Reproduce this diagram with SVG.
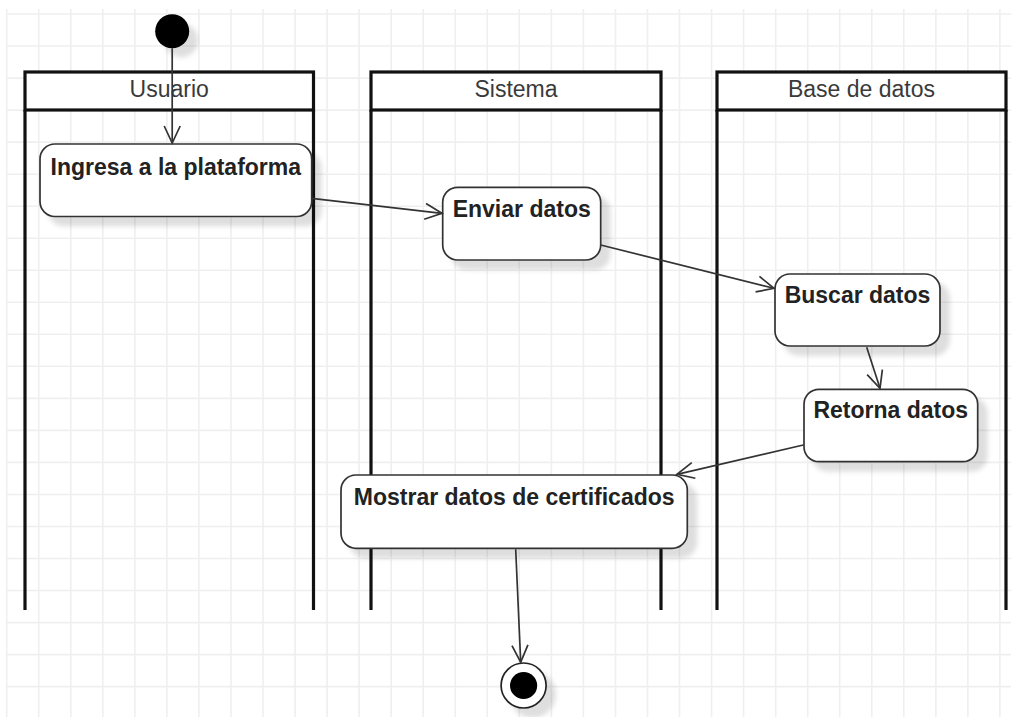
<svg xmlns="http://www.w3.org/2000/svg" width="1011" height="717" viewBox="0 0 1011 717">
<style>
.grid{stroke:#efefef;stroke-width:1.6;fill:none}
.lanehdr{fill:#ffffff;stroke:#111;stroke-width:3.2}
.laneline{stroke:#111;stroke-width:3.2;fill:none}
.hdrtxt{font-family:"Liberation Sans",Arial,sans-serif;font-size:23px;fill:#3a3a3a;text-anchor:middle}
.act{fill:#ffffff;stroke:#333;stroke-width:1.7}
.acttxt{font-family:"Liberation Sans",Arial,sans-serif;font-size:23px;font-weight:bold;fill:#222;text-anchor:middle}
.edge{stroke:#333;stroke-width:1.7;fill:none;marker-end:url(#arr)}
</style>
<defs>
<filter id="sh" x="-20%" y="-20%" width="150%" height="160%">
<feDropShadow dx="9" dy="9" stdDeviation="2.5" flood-color="#000" flood-opacity="0.13"/>
</filter>
<marker id="arr" markerUnits="userSpaceOnUse" markerWidth="22" markerHeight="22" viewBox="0 0 22 22" refX="19" refY="11" orient="auto">
<path d="M2,3 L19,11 L2,19" fill="none" stroke="#333" stroke-width="1.7"/>
</marker>
</defs>
<rect width="1011" height="717" fill="#ffffff"/>
<g id="grid">
<path class="grid" d="M6.7,9V717M38.7,9V717M70.8,9V717M102.8,9V717M134.9,9V717M166.9,9V717M198.9,9V717M231,9V717M263,9V717M295.1,9V717M327.1,9V717M359.1,9V717M391.2,9V717M423.2,9V717M455.3,9V717M487.3,9V717M519.3,9V717M551.4,9V717M583.4,9V717M615.5,9V717M647.5,9V717M679.5,9V717M711.6,9V717M743.6,9V717M775.7,9V717M807.7,9V717M839.7,9V717M871.8,9V717M903.8,9V717M935.9,9V717M967.9,9V717M999.9,9V717"/>
<path class="grid" d="M6,14H1011M6,46H1011M6,78.1H1011M6,110.1H1011M6,142.1H1011M6,174.2H1011M6,206.2H1011M6,238.2H1011M6,270.2H1011M6,302.3H1011M6,334.3H1011M6,366.3H1011M6,398.4H1011M6,430.4H1011M6,462.4H1011M6,494.5H1011M6,526.5H1011M6,558.5H1011M6,590.5H1011M6,622.6H1011M6,654.6H1011M6,686.6H1011"/>
</g>
<g id="lane-usuario">
<rect class="lanehdr" x="25" y="72" width="288.5" height="38"/>
<path class="laneline" d="M25,110V610M313.5,110V610"/>
<text class="hdrtxt" x="169.2" y="97">Usuario</text>
</g>
<g id="lane-sistema">
<rect class="lanehdr" x="371" y="72" width="290" height="38"/>
<path class="laneline" d="M371,110V610M661,110V610"/>
<text class="hdrtxt" x="516" y="97">Sistema</text>
</g>
<g id="lane-base">
<rect class="lanehdr" x="717" y="72" width="289" height="38"/>
<path class="laneline" d="M717,110V610M1006,110V610"/>
<text class="hdrtxt" x="861.5" y="97">Base de datos</text>
</g>
<g id="start">
<circle cx="172.2" cy="31.3" r="17" fill="#000" filter="url(#sh)"/>
</g>
<g id="n-ingresa">
<rect class="act" x="40" y="144" width="271.7" height="72.5" rx="15" filter="url(#sh)"/>
<text class="acttxt" x="175.8" y="175">Ingresa a la plataforma</text>
</g>
<g id="n-enviar">
<rect class="act" x="442.7" y="187.3" width="158" height="72.7" rx="15" filter="url(#sh)"/>
<text class="acttxt" x="521.7" y="216.7">Enviar datos</text>
</g>
<g id="n-buscar">
<rect class="act" x="775" y="274" width="165" height="72" rx="15" filter="url(#sh)"/>
<text class="acttxt" x="857.5" y="302.7">Buscar datos</text>
</g>
<g id="n-retorna">
<rect class="act" x="804" y="389.3" width="173.7" height="72.4" rx="15" filter="url(#sh)"/>
<text class="acttxt" x="890.8" y="418.3">Retorna datos</text>
</g>
<g id="n-mostrar">
<rect class="act" x="341" y="475" width="346.3" height="73.3" rx="15" filter="url(#sh)"/>
<text class="acttxt" x="514.2" y="505">Mostrar datos de certificados</text>
</g>
<g id="end">
<circle cx="523.6" cy="685.5" r="22.5" fill="#fff" stroke="#222" stroke-width="1.7" filter="url(#sh)"/>
<circle cx="523.6" cy="685.5" r="13.6" fill="#000"/>
</g>
<g id="connectors">
<path class="edge" d="M172.2,48.3L172.2,143"/>
<path class="edge" d="M311.7,198.3L442,213.3"/>
<path class="edge" d="M600.7,245L774,288.3"/>
<path class="edge" d="M866.7,347.3L880,388.3"/>
<path class="edge" d="M803.3,445L677,474.3"/>
<path class="edge" d="M515.7,549.3L520.7,662.2"/>
</g>
</svg>
